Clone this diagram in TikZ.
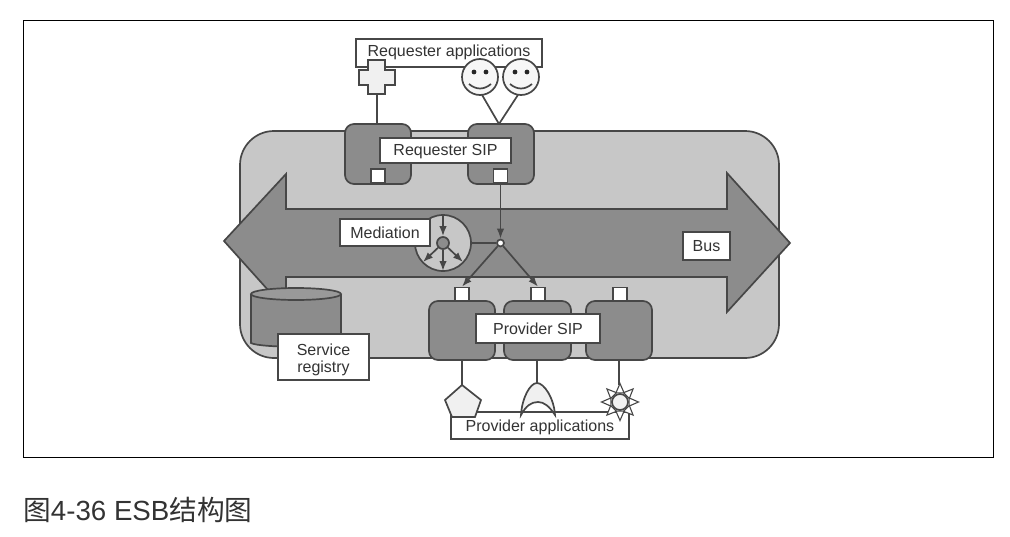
\documentclass[tikz,border=0pt]{standalone}
\usepackage{fontspec}
\setmainfont{Liberation Sans}
\newfontfamily\cjk{Noto Sans CJK SC}
\usetikzlibrary{arrows.meta, shapes.geometric}
\newcommand{\nudged}[2]{\raisebox{#1}[11.5pt][3.4pt]{#2}}

\begin{document}
\begin{tikzpicture}[x=1pt,y=-1pt]

\tikzset{line/.style = {draw=black!72, line width=1.7pt}}
\tikzset{labelbox/.style = {shape=rectangle,line,fill=white,text=black!80,inner sep=0pt,align=center,font=\fontsize{16}{18}\selectfont}}
\tikzset{sip/.style = {shape=rectangle,line,fill=black!45,rounded corners=9pt,minimum width=66pt,minimum height=60pt}}
\tikzset{port/.style = {shape=rectangle,line,fill=white,minimum size=14pt,inner sep=0pt}}
\tikzset{app/.style = {line,fill=black!6}}
\tikzset{edge/.style = {-{Latex[length=10pt,width=7.5pt]},line}}

\useasboundingbox (0,0) rectangle (1010,536);
\node[shape=rectangle,draw=black,line width=1pt,minimum width=970pt,minimum height=437pt] (frame) at (508,238.5) {};
\node[anchor=west,inner sep=0pt,text=black!80,font=\fontsize{27.7}{30}\selectfont] (caption) at (23,510) {{\cjk 图}4-36 ESB{\cjk 结构图}};

%bus
\node[shape=rectangle,line,fill=black!22,rounded corners=34pt,minimum width=539pt,minimum height=227pt] (panel) at (509.5,244.5) {};
\draw[line,fill=black!45] (224,241) -- (286,174) -- (286,209) -- (727,209) -- (727,173) -- (790,243) -- (727,312) -- (727,277) -- (286,277) -- (286,310) -- cycle;
\node[labelbox,minimum width=47pt,minimum height=28pt] (bus) at (706.5,246) {Bus};

%requester side
\node[labelbox,minimum width=186pt,minimum height=28pt] (reqapps) at (449,53) {\nudged{0.7pt}{Requester applications}};
\node[sip] (reqleft) at (378,154) {};
\node[sip] (reqright) at (501,154) {};
\node[labelbox,minimum width=131pt,minimum height=25pt] (reqsip) at (445.5,150.5) {\nudged{-1pt}{Requester SIP}};
\node[port] (portleft) at (378,176) {};
\node[port] (portright) at (500.5,176) {};
\draw[app] (368,60) -- (385,60) -- (385,70) -- (395,70) -- (395,85) -- (385,85) -- (385,94) -- (368,94) -- (368,85) -- (359,85) -- (359,70) -- (368,70) -- cycle;
\coordinate (crossfoot) at (377,94);
\draw[line] (crossfoot) -- (crossfoot |- reqleft.north);
\coordinate (smilefoot) at (499,124);
\foreach \name/\cx in {smileone/480,smiletwo/521}{
  \node[shape=circle,line,fill=black!3,minimum size=36pt,inner sep=0pt] (\name) at (\cx,77) {};
  \fill[black!85] (\cx-6,72) circle (2.4pt) (\cx+6,72) circle (2.4pt);
  \draw[line] (\cx-11,84) .. controls (\cx-4,90) and (\cx+4,90) .. (\cx+11,84);
}
\draw[line] (smileone.south) ++(2,-1) -- (smilefoot);
\draw[line] (smiletwo.south) ++(-3,-1) -- (smilefoot);

%mediation
\node[shape=circle,line,fill=black!22,minimum size=56pt,inner sep=0pt] (mediator) at (443,243) {};
\node[shape=circle,line,fill=black!45,minimum size=12pt,inner sep=0pt] (hub) at (443,243) {};
\node[labelbox,minimum width=90pt,minimum height=27pt] (mediation) at (385,232.5) {Mediation};
\coordinate (medtop) at (443,215);
\coordinate (medleft) at (423,262);
\coordinate (medmid) at (443,271);
\coordinate (medright) at (463,262);
\draw[edge] (medtop) -- (hub);
\draw[edge] (hub) -- (medleft);
\draw[edge] (hub) -- (medmid);
\draw[edge] (hub) -- (medright);

%provider side
\node[port] (portone) at (462,294.5) {};
\node[port] (porttwo) at (538,294.5) {};
\node[port] (portthree) at (620,294.5) {};
\node[sip,minimum height=59pt] (provone) at (462,330.5) {};
\node[sip,minimum width=67pt,minimum height=59pt] (provtwo) at (537.5,330.5) {};
\node[sip,minimum height=59pt] (provthree) at (619,330.5) {};
\node[labelbox,minimum width=124pt,minimum height=29pt] (provsip) at (538,328.5) {Provider SIP};

%junction
\node[shape=circle,line,fill=white,minimum size=7pt,inner sep=0pt] (junction) at (500.5,243) {};
\draw[edge] (portright.south) -- (junction.north);
\draw[line] (mediator.east) -- (junction.west);
\draw[edge] (junction) -- (portone.north);
\draw[edge] (junction) -- (porttwo.north);

%registry
\draw[line,fill=black!45] (251,294) -- (251,343) .. controls (260,348) and (332,348) .. (341,343) -- (341,294);
\node[shape=ellipse,line,fill=black!40,minimum width=90pt,minimum height=12pt,inner sep=0pt] (regtop) at (296,294) {};
\node[labelbox,minimum width=91pt,minimum height=46pt] (registry) at (323.5,357) {\raisebox{-1pt}[29pt][0pt]{\shortstack{Service\\[2.5pt]registry}}};

%provider applications
\node[labelbox,minimum width=178pt,minimum height=27pt] (provapps) at (540,425.5) {\nudged{-2pt}{Provider applications}};
\coordinate (pentop) at (462,385);
\draw[app] (pentop) -- (481,400) -- (475,417) -- (452,417) -- (445,400) -- cycle;
\draw[app] (521,415) .. controls (522,398) and (530,383) .. (537,383) .. controls (544,383) and (554,398) .. (555,415) .. controls (549,406) and (544,402) .. (538,402) .. controls (531,402) and (526,406) .. (521,415) -- cycle;
\coordinate (orfoot) at (537,383);
\foreach \a in {0,45,...,315}{
  \draw[line,line width=1.1pt,fill=white] (620,402) +(\a-24:10) -- +(\a:18.5) -- +(\a+24:10) -- cycle;
}
\node[shape=circle,line,fill=black!6,minimum size=16pt,inner sep=0pt] (sun) at (620,402) {};
\draw[line] (pentop |- provone.south) -- (pentop);
\draw[line] (orfoot |- provtwo.south) -- (orfoot);
\draw[line] (provthree.south) -- (619,385);

\end{tikzpicture}
\end{document}
